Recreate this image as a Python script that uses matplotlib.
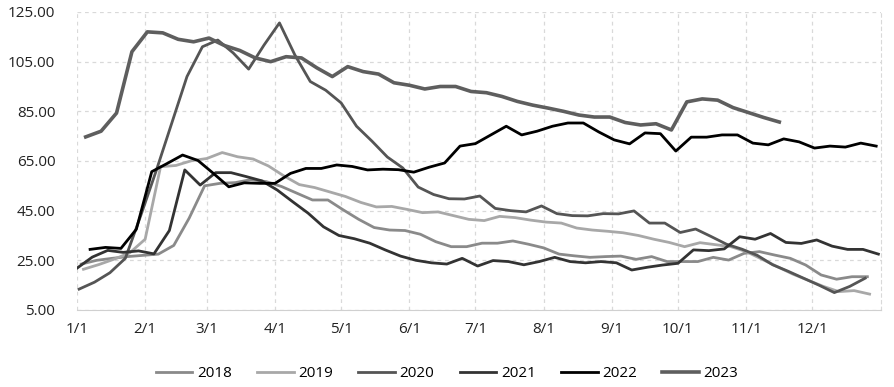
import numpy as np
import matplotlib
matplotlib.use('Agg')
import matplotlib.pyplot as plt

plt.rcParams['font.family'] = ['Open Sans', 'DejaVu Sans']

# weekly readings, x = day of year (1/1 = 0)
month_days = [0, 31, 59, 90, 120, 151, 181, 212, 243, 273, 304, 334]
month_labels = ['1/1', '2/1', '3/1', '4/1', '5/1', '6/1', '7/1', '8/1', '9/1', '10/1', '11/1', '12/1']

start_2018 = 2
v_2018 = [23.5, 25, 25.8, 26.5, 27, 27.5, 31, 42, 55, 56, 56.3, 57.5, 56.7, 54.7, 52, 49.3,
          49.3, 45.3, 41.5, 38.2, 37.2, 37, 35.5, 32.5, 30.5, 30.5, 31.9, 31.9, 32.8, 31.5,
          30, 27.5, 26.8, 26.2, 26.5, 26.7, 25.4, 26.5, 24.5, 24.5, 24.5, 26.2, 25.1, 27.8,
          28.5, 27.1, 25.8, 23.1, 19.1, 17.4, 18.4, 18.4]

start_2019 = 3
v_2019 = [21.4, 23.3, 25.5, 28, 33.5, 62.7, 63.2, 65.1, 66, 68.4, 66.7, 65.8, 63, 59, 55.5,
          54.3, 52.5, 50.7, 48.3, 46.5, 46.7, 45.5, 44.2, 44.5, 43, 41.5, 41, 42.7, 42.2,
          41.2, 40.4, 40, 38, 37.2, 36.7, 36.1, 35, 33.5, 32.2, 30.5, 32.1, 31.3, 30.5, 28.5,
          25.5, 22.5, 19.5, 17, 14.5, 12.4, 12.8, 11.4]

start_2020 = 1
v_2020 = [13.4, 16.2, 20, 25.8, 43, 61, 80, 99, 111, 113.7, 108.5, 102, 111.7, 120.6, 107.7,
          97, 93.5, 88.4, 79, 73, 66.6, 62.2, 54.5, 51.5, 49.8, 49.7, 50.9, 45.9, 45, 44.5,
          46.9, 43.8, 43, 42.9, 43.8, 43.7, 44.9, 40, 40, 36.2, 37.6, 34.6, 31.5, 29.5, 27,
          23.2, 20.6, 17.8, 15, 12, 14.5, 17.8]

start_2021 = 0
v_2021 = [21.8, 26.3, 29, 28.2, 28.8, 27.6, 37, 61.4, 55.3, 60.3, 60.3, 58.7, 57, 53.3, 48.6,
          44, 38.5, 35, 33.7, 31.9, 29.2, 26.7, 25, 24, 23.5, 25.8, 22.7, 24.9, 24.5, 23.2,
          24.5, 26.2, 24.5, 24, 24.5, 24, 21.1, 22.2, 23.1, 23.8, 29.2, 28.9, 29.6, 34.5,
          33.5, 35.8, 32.2, 31.8, 33.2, 30.7, 29.4, 29.4, 27.5]

start_2022 = 6
v_2022 = [29.4, 30.2, 29.8, 37.5, 60.7, 64, 67.4, 65.2, 60, 54.6, 56.2, 56, 56, 60, 62, 62,
          63.4, 62.8, 61.4, 61.7, 61.5, 60.5, 62.5, 64.2, 71, 72, 75.5, 79, 75.5, 77, 79,
          80.3, 80.3, 76.7, 73.5, 71.9, 76.3, 76, 69, 74.6, 74.6, 75.5, 75.5, 72.2, 71.5,
          73.9, 72.7, 70.2, 71, 70.6, 72.2, 71]

start_2023 = 4
v_2023 = [74.7, 77, 84.3, 109, 117, 116.6, 114, 113, 114.5, 111.5, 109.5, 106.5, 105, 107,
          106.5, 102.5, 99, 103, 101, 100, 96.5, 95.5, 94, 95, 95, 93, 92.5, 91, 89, 87.5,
          86.3, 85, 83.5, 82.7, 82.7, 80.5, 79.5, 80, 77.5, 88.8, 90, 89.5, 86.5, 84.5, 82.5,
          80.7]

series = [
    ('2018', start_2018, v_2018, '#8a8a8a', 2.0),
    ('2019', start_2019, v_2019, '#a8a8a8', 2.0),
    ('2020', start_2020, v_2020, '#555555', 2.0),
    ('2021', start_2021, v_2021, '#333333', 2.0),
    ('2022', start_2022, v_2022, '#000000', 2.0),
    ('2023', start_2023, v_2023, '#5e5e5e', 2.6),
]

fig = plt.figure(figsize=(8.94, 3.87), dpi=100)
ax = fig.add_axes([0.086, 0.199, 0.899, 0.77])

for name, start, vals, color, lw in series:
    days = start + 7 * np.arange(len(vals))
    ax.plot(days, vals, color=color, lw=lw, label=name, solid_joinstyle='round')

ax.set_xlim(0, 365)
ax.set_ylim(5, 125)
ax.set_yticks(np.arange(5, 126, 20))
ax.set_yticklabels(['%.2f' % v for v in np.arange(5, 126, 20)])
ax.set_xticks(month_days)
ax.set_xticklabels(month_labels)
ax.tick_params(length=0, labelsize=11, colors='#222222')
ax.tick_params(axis='x', pad=9)
ax.tick_params(axis='y', pad=15.5)

ax.grid(True, color='#d9d9d9', linestyle=(0, (3, 3)), linewidth=0.9)
ax.set_axisbelow(True)
for s in ['left', 'top']:
    ax.spines[s].set_visible(False)
ax.spines['right'].set_color('#d9d9d9')
ax.spines['right'].set_linestyle((0, (3, 3)))
ax.spines['bottom'].set_color('#d0d0d0')

fig.legend(loc='lower center', bbox_to_anchor=(0.5, -0.02), ncol=6, frameon=False,
           fontsize=11, handlelength=2.4, columnspacing=1.65, handletextpad=0.3)

fig.savefig('out.png', dpi=100)
